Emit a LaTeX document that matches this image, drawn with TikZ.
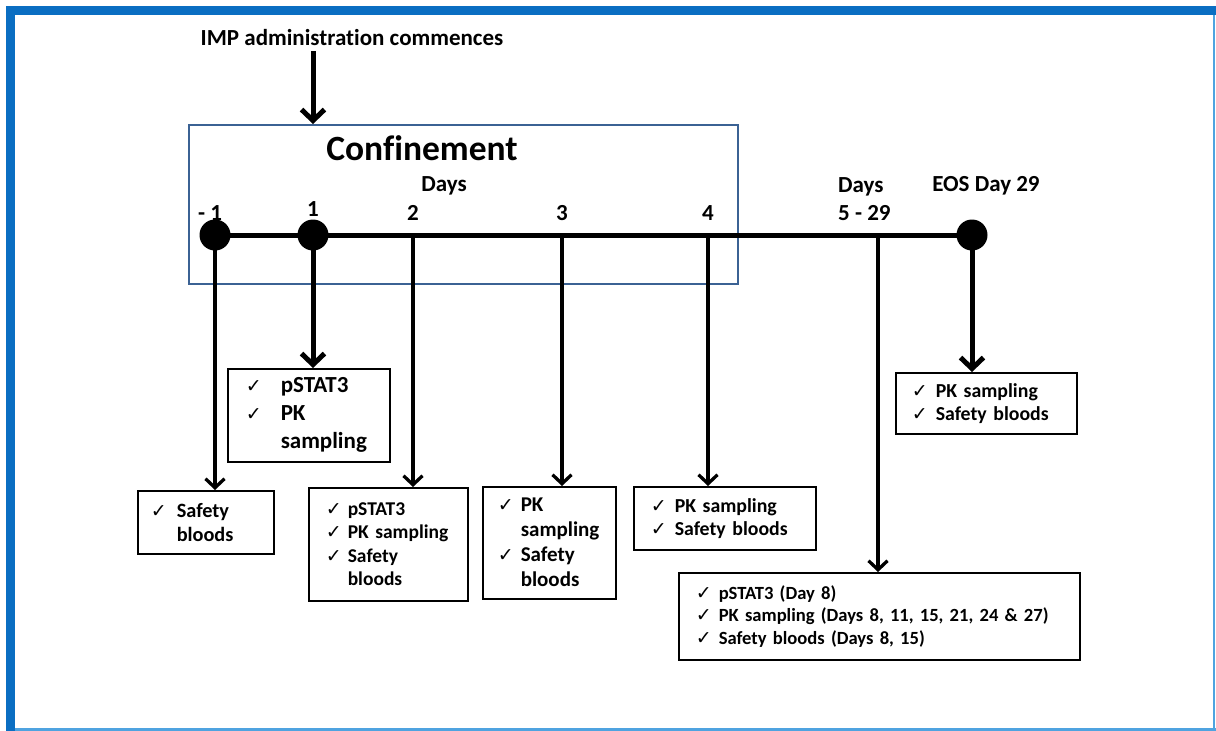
\documentclass[tikz,border=0pt]{standalone}
\usepackage{fontspec}
\setmainfont{Carlito}[Ligatures=NoCommon]
\newfontfamily\dejavu{DejaVu Sans}
\usetikzlibrary{arrows.meta}
\definecolor{frameblue}{HTML}{0A6EC2}
\definecolor{framelight}{HTML}{4FA3E0}
\definecolor{confblue}{HTML}{3B6294}
\newcommand{\ck}{{\dejavu\mdseries\fontsize{19}{19}\selectfont ✓}}
\newcommand{\cl}[2]{\makebox[#1][l]{\ck}#2}
\newcommand{\ct}[2]{\hspace*{#1}#2}
\tikzset{
  box/.style={draw, line width=1.5pt, anchor=north west, align=left, inner ysep=0pt},
  lbl/.style={anchor=base, inner sep=0pt, font=\bfseries\fontsize{23}{27}\selectfont},
  dot/.style={circle, fill=black, minimum size=31pt, inner sep=0pt},
  thinarr/.style={line width=3.3pt, -{Straight Barb[length=9pt,width=19pt]}},
  thickarr/.style={line width=5pt, -{Straight Barb[length=11pt,width=23pt]}}
}
\begin{document}
\begin{tikzpicture}[x=1pt, y=-1pt]
\useasboundingbox (0,0) rectangle (1216,731);
\fill[white] (0,0) rectangle (1216,731);
% outer frame
\draw[framelight, line width=2pt] (1214,10) -- (1214,731);
\draw[framelight, line width=3pt] (10,729) -- (1216,729);
\draw[frameblue, line width=9pt] (10,731) -- (10,10) -- (1216,10);

% header
\node[lbl] (imp) at (352,45) {IMP administration commences};
\node[box, draw=confblue, line width=2pt, minimum width=549pt, minimum height=159pt, inner sep=0pt] (conf) at (188,124) {};
\node[anchor=base, inner sep=0pt, font=\bfseries\fontsize{35.5}{40}\selectfont] (conft) at (422,160) {Confinement};
\node[lbl] (days) at (444,191) {Days};
\node[lbl] (lm1) at (210,220) {- 1};
\node[lbl] (l1) at (313,216) {1};
\node[lbl] (l2) at (413,220) {2};
\node[lbl] (l3) at (562,220) {3};
\node[lbl] (l4) at (708,220) {4};
\node[lbl, anchor=base west, align=left] (l5) at (838,220) {Days\\[1pt]5 - 29};
\node[lbl] (leos) at (986,191) {EOS Day 29};

% timeline
\coordinate (pm1) at (215,235);
\coordinate (p1) at (313,235);
\coordinate (t2) at (413,235);
\coordinate (t3) at (562,235);
\coordinate (t4) at (708,235);
\coordinate (t5) at (878,235);
\coordinate (peos) at (972,235);
\draw[line width=5pt] (pm1) -- (peos);
\node[dot] (dm1) at (pm1) {};
\node[dot] (d1) at (p1) {};
\node[dot] (deos) at (peos) {};

% boxes
\node[box, minimum height=63pt, text width=110pt, inner xsep=13pt, font=\bfseries\fontsize{20.3}{24}\selectfont] (A) at (137,490)
  {\cl{26pt}{Safety}\\\ct{26pt}{bloods}};
\node[box, minimum height=93pt, text width=126pt, inner xsep=18pt, font=\bfseries\fontsize{23}{28}\selectfont] (B) at (227,368)
  {\cl{35pt}{pSTAT3}\\\cl{35pt}{PK}\\\ct{35pt}{sampling}};
\node[box, minimum height=113pt, text width=125pt, inner xsep=17pt, font=\bfseries\fontsize{19.5}{23.3}\selectfont] (C) at (308,487)
  {\cl{22pt}{pSTAT3}\\\cl{22pt}{PK sampling}\\\cl{22pt}{Safety}\\\ct{22pt}{bloods}};
\node[box, minimum height=112pt, text width=103pt, inner xsep=15pt, font=\bfseries\fontsize{21}{25}\selectfont] (D) at (482,486)
  {\cl{23pt}{PK}\\\ct{23pt}{sampling}\\\cl{23pt}{Safety}\\\ct{23pt}{bloods}};
\node[box, minimum height=63pt, text width=148pt, inner xsep=17pt, font=\bfseries\fontsize{19.8}{23}\selectfont] (E) at (633,486)
  {\cl{24pt}{PK sampling}\\\cl{24pt}{Safety bloods}};
\node[box, minimum height=87pt, text width=367pt, inner xsep=17pt, font=\bfseries\fontsize{18.6}{22.5}\selectfont] (F) at (678,572)
  {\cl{23pt}{pSTAT3 (Day 8)}\\\cl{23pt}{\mbox{PK sampling (Days 8, 11, 15, 21, 24 \& 27)}}\\\cl{23pt}{Safety bloods (Days 8, 15)}};
\node[box, minimum height=61pt, text width=149pt, inner xsep=16pt, font=\bfseries\fontsize{19.8}{23}\selectfont] (G) at (895,372)
  {\cl{24pt}{PK sampling}\\\cl{24pt}{Safety bloods}};

% connectors
\draw[thickarr] ([yshift=-6pt]imp.south -| d1) -- (d1 |- conf.north);
\draw[thinarr] (dm1.center) -- (dm1.center |- A.north);
\draw[thickarr] (d1.center) -- (d1.center |- B.north);
\draw[thinarr] (t2) -- (t2 |- C.north);
\draw[thinarr] (t3) -- (t3 |- D.north);
\draw[thinarr] (t4) -- (t4 |- E.north);
\draw[thinarr] (t5) -- (t5 |- F.north);
\draw[thickarr] (deos.center) -- (deos.center |- G.north);
\end{tikzpicture}
\end{document}
